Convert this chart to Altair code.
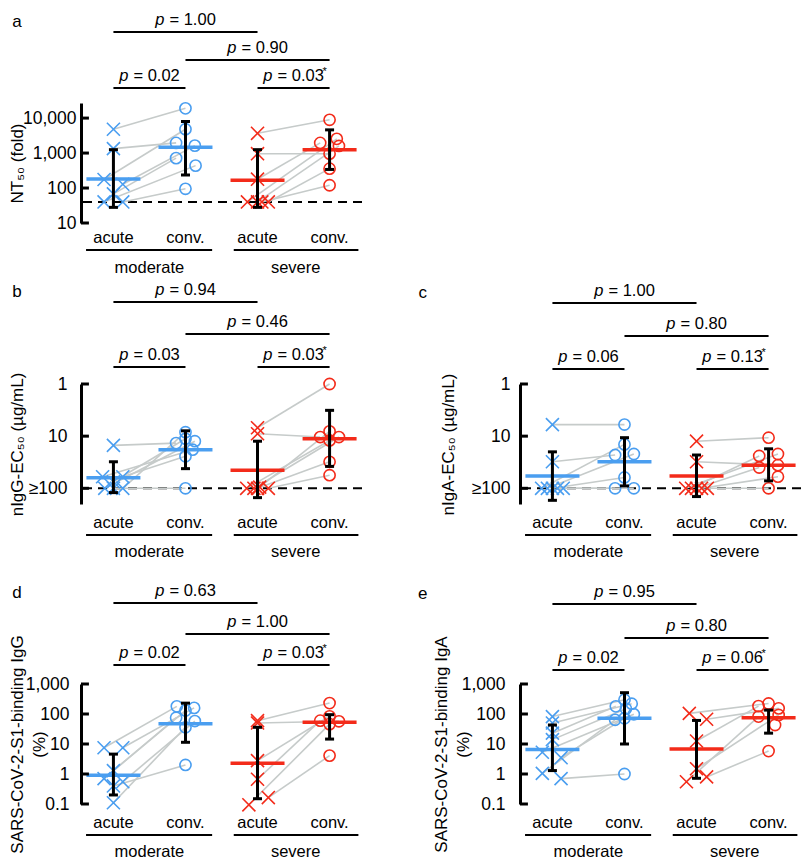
import altair as alt
import pandas as pd

FONT = "Liberation Sans"
BLUE = "#4a9ef0"
RED = "#f32b1a"
GRAY = "#c6cbca"
X_PATH = "M-1,-1L1,1M-1,1L1,-1"

# ---------------- data ----------------
TIME_LABELS = ["acute", "conv.", "acute", "conv."]
GROUP_LABELS = ["moderate", "severe"]

# a: NT50 (fold)
A_MOD_ACUTE = [4800, 1340, 175, 128, 68, 40, 40]
A_MOD_ACUTE_J = [0, 0, -0.13, 0.13, 0, -0.13, 0.13]
A_MOD_CONV = [19000, 1950, 4800, 1630, 716, 437, 95]
A_MOD_CONV_J = [0, -0.13, 0, 0.13, -0.13, 0.14, 0]
A_SEV_ACUTE = [3670, 960, 179, 40, 40, 40, 40]
A_SEV_ACUTE_J = [0, 0, 0, -0.14, 0, 0.15, 0.06]
A_SEV_CONV = [8930, 960, 1950, 2550, 1600, 358, 120]
A_SEV_CONV_J = [0, 0, -0.13, 0.1, 0.13, 0, 0]
A_MEAN = [182, 1460, 167, 1250]
A_LO = [28, 236, 28, 340]
A_HI = [1250, 8000, 1250, 4600]
A_P = ["1.00", "0.90", "0.02", "0.03"]
A_STAR = [False, False, False, True]

# b: nIgG-EC50
B_MOD_ACUTE = [15, 60, 60, 100, 100, 75, 100]
B_MOD_ACUTE_J = [0, -0.15, 0.13, -0.12, 0.13, 0, 0]
B_MOD_CONV = [13.6, 18.2, 24.4, 12.5, 8.4, 11.2, 100]
B_MOD_CONV_J = [-0.13, 0.1, 0, 0.13, 0, 0, 0]
B_SEV_ACUTE = [6.9, 9, 100, 100, 100, 95, 100]
B_SEV_ACUTE_J = [0, 0, -0.15, 0, 0.15, 0.03, -0.05]
B_SEV_CONV = [1.0, 10.4, 12.1, 31, 56, 8.1, 10.4]
B_SEV_CONV_J = [0, -0.13, 0, 0, 0, 0, 0.13]
B_MEAN = [63, 18.2, 45, 11.2]
B_LO = [31, 7.9, 12.5, 3.2]
B_HI = [121, 42, 151, 38]
B_P = ["0.94", "0.46", "0.03", "0.03"]
B_STAR = [False, False, False, True]

# c: nIgA-EC50
C_MOD_ACUTE = [6.0, 31, 100, 100, 100, 100, 100]
C_MOD_ACUTE_J = [0, 0, -0.15, -0.07, 0, 0.07, 0.15]
C_MOD_CONV = [6.0, 23, 14.4, 22, 62, 100, 100]
C_MOD_CONV_J = [0, -0.13, 0, 0.13, 0, -0.13, 0.13]
C_SEV_ACUTE = [12.5, 31, 100, 100, 100, 100, 100]
C_SEV_ACUTE_J = [0, 0, -0.15, -0.07, 0, 0.07, 0.15]
C_SEV_CONV = [10.7, 36, 22, 24, 40, 60, 100]
C_SEV_CONV_J = [0, 0.13, 0.13, -0.13, -0.13, 0.13, 0]
C_MEAN = [58, 31, 58, 36]
C_LO = [20, 10.7, 23, 17.5]
C_HI = [170, 90, 144, 72]
C_P = ["1.00", "0.80", "0.06", "0.13"]
C_STAR = [False, False, False, True]

# d: SARS-CoV-2-S1-binding IgG (%)
D_MOD_ACUTE = [7.5, 7.5, 1.3, 0.7, 0.55, 0.4, 0.11]
D_MOD_ACUTE_J = [-0.13, 0.13, 0, -0.13, 0.13, 0, 0]
D_MOD_CONV = [180, 160, 130, 75, 58, 2.0, 36]
D_MOD_CONV_J = [-0.12, 0.12, 0, -0.13, 0.13, 0, 0]
D_SEV_ACUTE = [60, 50, 2.8, 0.67, 0.164, 0.094]
D_SEV_ACUTE_J = [0, 0, 0, 0, 0.15, -0.12]
D_SEV_CONV = [231, 57, 84, 60, 4.1, 46]
D_SEV_CONV_J = [0, 0.13, 0, -0.13, 0, 0]
D_MEAN = [0.9, 47, 2.3, 53]
D_LO = [0.2, 11.4, 0.15, 14.6]
D_HI = [4.6, 230, 36, 95]
D_P = ["0.63", "1.00", "0.02", "0.03"]
D_STAR = [False, False, False, True]

# e: SARS-CoV-2-S1-binding IgA (%)
E_MOD_ACUTE = [82, 50, 23, 14, 5.3, 3.5, 1.05, 0.7]
E_MOD_ACUTE_J = [0, 0, 0, 0, -0.14, 0.12, -0.14, 0.12]
E_MOD_CONV = [300, 220, 180, 150, 98, 72, 64, 1.0]
E_MOD_CONV_J = [0, 0.1, -0.12, 0.02, 0.13, 0, -0.13, 0]
E_SEV_ACUTE = [105, 67, 12.6, 1.5, 0.55, 0.8]
E_SEV_ACUTE_J = [-0.1, 0.14, 0, 0, -0.14, 0.14]
E_SEV_CONV = [224, 154, 183, 93, 82, 5.8, 43]
E_SEV_CONV_J = [0, 0.14, -0.14, 0.14, -0.14, 0, 0.09]
E_MEAN = [6.5, 72, 6.8, 75]
E_LO = [1.3, 10, 0.72, 23]
E_HI = [43, 513, 61, 135]
E_P = ["0.95", "0.80", "0.02", "0.06"]
E_STAR = [False, False, False, True]

# ---------------- layout ----------------
W, H = 281, 120
XDOM = [0.55, 4.45]
BRACKETS = [(1, 3), (2, 4), (1, 2), (3, 4)]
TXT = dict(font=FONT, fontSize=16.5, color="black")


def X(field="x"):
    return alt.X(f"{field}:Q", scale=alt.Scale(domain=XDOM, nice=False, zero=False), axis=None)


def V(field="v"):
    return alt.Y(f"{field}:Q", scale=alt.Scale(domain=[0, H], nice=False, zero=False), axis=None)


def panel(letter, title, ydom, reverse, ticks, labelexpr, lod,
          ma, maj, mc, mcj, sa, saj, sc, scj, mean, lo, hi, pv, star,
          label_pad, title_x, letter_x, levels, bottom, top_pad=None):
    rows = []
    for grp, a, aj, c, cj, pa, pc in [("moderate", ma, maj, mc, mcj, 1, 2),
                                        ("severe", sa, saj, sc, scj, 3, 4)]:
        for i, (v, j) in enumerate(zip(a, aj)):
            rows.append(dict(x=pa + j, y=v, grp=grp, kind="acute", pid=f"{grp}{i}"))
        for i, (v, j) in enumerate(zip(c, cj)):
            rows.append(dict(x=pc + j, y=v, grp=grp, kind="conv", pid=f"{grp}{i}"))
    pts = pd.DataFrame(rows)
    counts = pts["pid"].value_counts()
    pairs = pts[pts["pid"].map(counts) == 2]

    stats = pd.DataFrame(dict(x=[1, 2, 3, 4], y=mean,
                              grp=["moderate", "moderate", "severe", "severe"]))
    err = pd.DataFrame(dict(x=[1, 2, 3, 4], y=lo, y2=hi))
    caps = pd.DataFrame(dict(x=[1, 2, 3, 4] * 2, y=list(lo) + list(hi)))
    tk = pd.DataFrame(dict(x=[XDOM[0]] * len(ticks), x2=[XDOM[0] + 0.11] * len(ticks), y=ticks))

    axis = alt.Axis(values=ticks, labelExpr=labelexpr, labelFont=FONT, labelFontSize=17.5,
                    labelColor="black", labelPadding=label_pad, domain=True,
                    domainColor="black", domainWidth=3, ticks=False, tickSize=0, grid=False,
                    title=title, titleFont=FONT, titleFontSize=17, titleFontWeight="normal",
                    titleColor="black", titleX=title_x, titleY=H / 2, titleLineHeight=22)
    Y = alt.Y("y:Q", scale=alt.Scale(type="log", domain=ydom, reverse=reverse, nice=False),
              axis=axis)
    col = alt.Color("grp:N", scale=alt.Scale(domain=GROUP_LABELS, range=[BLUE, RED]), legend=None)

    layers = []
    if lod is not None:
        layers.append(alt.Chart(pd.DataFrame(dict(y=[lod]))).mark_rule(
            color="black", strokeWidth=2, strokeDash=[9, 6]).encode(y=Y))
    layers.append(alt.Chart(pairs).mark_line(color=GRAY, strokeWidth=1.6).encode(
        x=X(), y=Y, detail="pid:N", order="x:Q"))
    layers.append(alt.Chart(pts[pts["kind"] == "acute"]).mark_point(
        shape=X_PATH, size=170, filled=False, strokeWidth=1.6, opacity=1).encode(x=X(), y=Y, color=col))
    layers.append(alt.Chart(pts[pts["kind"] == "conv"]).mark_point(
        shape="circle", size=125, filled=False, strokeWidth=1.6, opacity=1).encode(x=X(), y=Y, color=col))
    layers.append(alt.Chart(stats).mark_tick(orient="horizontal", size=54, thickness=3.5, opacity=1).encode(
        x=X(), y=Y, color=col))
    layers.append(alt.Chart(err).mark_rule(color="black", strokeWidth=3).encode(
        x=X(), y=Y, y2="y2:Q"))
    layers.append(alt.Chart(caps).mark_tick(orient="horizontal", size=9, thickness=3,
                                            color="black", opacity=1).encode(x=X(), y=Y))
    layers.append(alt.Chart(tk).mark_rule(color="black", strokeWidth=3).encode(
        x=X(), x2="x2:Q", y=Y))
    main = alt.layer(*layers)

    lv = [H + l for l in levels] + [H + levels[-1]]
    br = pd.DataFrame(dict(x=[b[0] for b in BRACKETS], x2=[b[1] for b in BRACKETS],
                           c=[(b[0] + b[1]) / 2 for b in BRACKETS], v=lv,
                           vt=[l + 7 for l in lv], p=["= " + p for p in pv], star=star))
    grp_lines = pd.DataFrame(dict(x=[0.62, 2.67], x2=[2.37, 4.4], v=[bottom[1]] * 2))
    grp_txt = pd.DataFrame(dict(x=[1.5, 3.53], v=[bottom[2]] * 2, t=GROUP_LABELS))
    time_txt = pd.DataFrame(dict(x=[1, 2, 3, 4], v=[bottom[0]] * 4, t=TIME_LABELS))
    let = pd.DataFrame(dict(x=[letter_x], v=[H + levels[0] + 5], t=[letter]))

    ann = [
        alt.Chart(br).mark_rule(color="black", strokeWidth=2).encode(x=X(), x2="x2:Q", y=V()),
        alt.Chart(br).mark_text(align="right", dx=-21, fontStyle="italic", baseline="alphabetic", **TXT).encode(
            x=X("c"), y=V("vt"), text=alt.value("p")),
        alt.Chart(br).mark_text(align="left", dx=-16, baseline="alphabetic", **TXT).encode(
            x=X("c"), y=V("vt"), text="p:N"),
        alt.Chart(br[br["star"]]).mark_text(align="left", dx=29, dy=-6, baseline="alphabetic",
                                            font=FONT, fontSize=11, color="black").encode(
            x=X("c"), y=V("vt"), text=alt.value("*")),
        alt.Chart(grp_lines).mark_rule(color="black", strokeWidth=2).encode(x=X(), x2="x2:Q", y=V()),
        alt.Chart(grp_txt).mark_text(baseline="middle", **TXT).encode(x=X(), y=V(), text="t:N"),
        alt.Chart(time_txt).mark_text(baseline="middle", **TXT).encode(x=X(), y=V(), text="t:N"),
        alt.Chart(let).mark_text(baseline="alphabetic", font=FONT, fontSize=17, color="black").encode(
            x=X(), y=V(), text="t:N"),
    ]
    if top_pad is not None:
        # invisible spacer that only reserves room above the panel
        ann.append(alt.Chart(pd.DataFrame(dict(x=[1], x2=[2], v=[H + top_pad]))).mark_rule(
            strokeWidth=1, strokeOpacity=0, color="white").encode(x=X(), x2="x2:Q", y=V()))
    annot = alt.layer(*ann)
    return alt.layer(main, annot).resolve_scale(y="independent").properties(width=W, height=H)


FMT = "format(datum.value, ',')"
GE = "datum.value == 100 ? '≥100' : format(datum.value, ',')"
BOT_A = (-15, -27, -45)
BOT = (-19, -31, -48)

pa = panel("a", "NT₅₀ (fold)", [10, 27000], False, [10, 100, 1000, 10000], FMT, 40,
           A_MOD_ACUTE, A_MOD_ACUTE_J, A_MOD_CONV, A_MOD_CONV_J, A_SEV_ACUTE, A_SEV_ACUTE_J,
           A_SEV_CONV, A_SEV_CONV_J, A_MEAN, A_LO, A_HI, A_P, A_STAR, 5, -55, -0.34,
           [71, 43, 15], BOT_A)
pb = panel("b", "nIgG-EC₅₀ (µg/mL)", [1, 200], True, [1, 10, 100], GE, 100,
           B_MOD_ACUTE, B_MOD_ACUTE_J, B_MOD_CONV, B_MOD_CONV_J, B_SEV_ACUTE, B_SEV_ACUTE_J,
           B_SEV_CONV, B_SEV_CONV_J, B_MEAN, B_LO, B_HI, B_P, B_STAR, 14, -55, -0.34,
           [82, 50, 17], BOT)
pc = panel("c", "nIgA-EC₅₀ (µg/mL)", [1, 200], True, [1, 10, 100], GE, 100,
           C_MOD_ACUTE, C_MOD_ACUTE_J, C_MOD_CONV, C_MOD_CONV_J, C_SEV_ACUTE, C_SEV_ACUTE_J,
           C_SEV_CONV, C_SEV_CONV_J, C_MEAN, C_LO, C_HI, C_P, C_STAR, 10, -63, -0.8,
           [81, 48, 15], BOT)
pd_ = panel("d", ["SARS-CoV-2-S1-binding IgG", "(%)"], [0.1, 1000], False, [0.1, 1, 10, 100, 1000], FMT, None,
            D_MOD_ACUTE, D_MOD_ACUTE_J, D_MOD_CONV, D_MOD_CONV_J, D_SEV_ACUTE, D_SEV_ACUTE_J,
            D_SEV_CONV, D_SEV_CONV_J, D_MEAN, D_LO, D_HI, D_P, D_STAR, 12, -55, -0.34,
            [81, 50, 19], BOT, top_pad=118)
pe = panel("e", ["SARS-CoV-2-S1-binding IgA", "(%)"], [0.1, 1000], False, [0.1, 1, 10, 100, 1000], FMT, None,
           E_MOD_ACUTE, E_MOD_ACUTE_J, E_MOD_CONV, E_MOD_CONV_J, E_SEV_ACUTE, E_SEV_ACUTE_J,
           E_SEV_CONV, E_SEV_CONV_J, E_MEAN, E_LO, E_HI, E_P, E_STAR, 15, -70, -0.8,
           [80, 46, 14], BOT, top_pad=118)

blank = alt.Chart(pd.DataFrame(dict(x=[0]))).mark_text(text="").encode(
    x=alt.value(0), y=alt.value(0)).properties(width=1, height=1)

chart = alt.concat(pa, blank, pb, pc, pd_, pe, columns=2,
                   spacing={"row": 5, "column": 55}).properties(
    padding={"top": 4, "left": 0, "right": 0, "bottom": 0}, align="each"
).configure_view(stroke=None)

chart.save("out.html", embed_options={"renderer": "svg", "actions": False})
